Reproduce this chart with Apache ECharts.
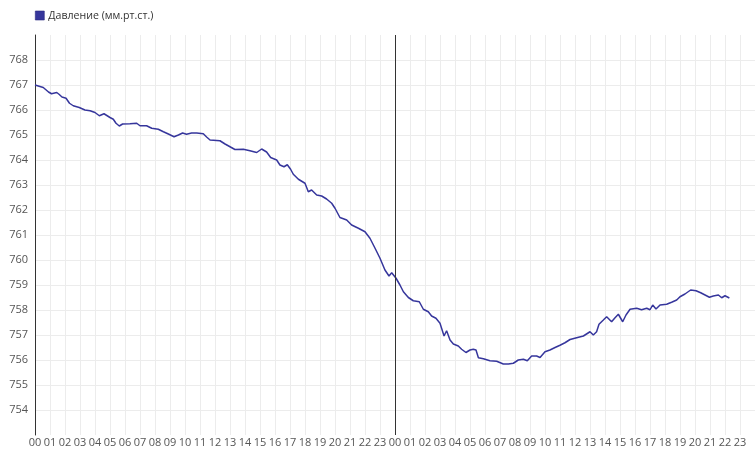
<!DOCTYPE html>
<html>
<head>
<meta charset="utf-8">
<script src="https://cdn.jsdelivr.net/npm/echarts@6/dist/echarts.min.js"></script>
<style>html,body{margin:0;padding:0;background:#fff}#c{width:755px;height:451px}</style>
</head>
<body>
<div id="c"></div>
<script>
const seriesName = 'Давление (мм.рт.ст.)';
const hourLabels = ['00','01','02','03','04','05','06','07','08','09','10','11','12','13','14','15','16','17','18','19','20','21','22','23'];
const dayBreaks = [24];
const hours = [0.0,0.55,0.9,1.1,1.45,1.6,1.8,2.07,2.3,2.55,2.95,3.33,3.67,4.0,4.29,4.6,5.0,5.22,5.4,5.62,5.84,6.33,6.78,7.0,7.44,7.78,8.22,8.56,8.89,9.27,9.56,9.84,10.1,10.44,10.78,11.22,11.44,11.67,12.33,12.67,13.0,13.33,13.89,14.33,14.78,15.11,15.44,15.71,16.11,16.33,16.6,16.82,17.04,17.22,17.56,18.0,18.22,18.44,18.78,19.11,19.44,19.78,20.0,20.33,20.78,21.11,21.56,22.0,22.33,22.67,23.0,23.33,23.6,23.78,24.07,24.33,24.56,24.89,25.22,25.62,25.89,26.22,26.44,26.73,27.0,27.27,27.44,27.67,27.89,28.22,28.44,28.73,29.0,29.22,29.4,29.56,29.89,30.33,30.78,31.22,31.56,31.89,32.22,32.56,32.82,33.11,33.44,33.67,34.0,34.33,34.67,35.0,35.33,35.67,36.11,36.56,37.0,37.22,37.44,37.6,37.89,38.11,38.44,38.67,38.89,39.18,39.4,39.67,40.11,40.44,40.78,41.0,41.18,41.4,41.67,42.11,42.44,42.78,43.0,43.33,43.71,44.07,44.38,44.67,44.96,45.22,45.56,45.78,46.0,46.29];
const pressure = [767.0,766.9,766.72,766.65,766.7,766.63,766.52,766.47,766.27,766.17,766.1,766.0,765.97,765.9,765.77,765.85,765.7,765.63,765.47,765.36,765.44,765.45,765.47,765.37,765.37,765.27,765.23,765.13,765.04,764.93,765.0,765.08,765.03,765.08,765.08,765.05,764.92,764.8,764.77,764.64,764.53,764.42,764.43,764.37,764.3,764.44,764.32,764.1,764.0,763.8,763.73,763.81,763.63,763.43,763.23,763.07,762.73,762.8,762.6,762.56,762.44,762.27,762.07,761.7,761.6,761.4,761.27,761.13,760.87,760.47,760.07,759.6,759.36,759.49,759.27,759.0,758.73,758.5,758.37,758.33,758.03,757.93,757.76,757.67,757.47,756.96,757.17,756.8,756.64,756.56,756.43,756.3,756.4,756.43,756.4,756.09,756.05,755.97,755.95,755.84,755.84,755.87,756.0,756.03,755.97,756.16,756.16,756.1,756.33,756.4,756.5,756.59,756.69,756.82,756.89,756.96,757.13,757.0,757.13,757.43,757.6,757.73,757.53,757.69,757.83,757.53,757.8,758.03,758.07,758.01,758.07,758.01,758.2,758.04,758.2,758.23,758.31,758.4,758.53,758.64,758.8,758.77,758.69,758.6,758.51,758.56,758.6,758.49,758.57,758.48];

const lineColor = '#36369c';
const chart = echarts.init(document.getElementById('c'), null, {renderer: 'canvas'});
chart.setOption({
  animation: false,
  textStyle: {fontFamily: 'Open Sans'},
  legend: {
    left: 30, top: 5, itemWidth: 9, itemHeight: 9, itemGap: 10,
    icon: 'rect',
    itemStyle: {borderColor: '#2a2a80', borderWidth: 0.6},
    textStyle: {fontSize: 10.6, color: '#333', fontFamily: 'Open Sans', padding: [0, 0, 0, -1]},
    data: [seriesName]
  },
  grid: {left: 35, top: 35, right: 0, bottom: 16, containLabel: false},
  xAxis: {
    type: 'value', min: 0, max: 48, interval: 1,
    axisLine: {show: false},
    axisTick: {show: false},
    axisLabel: {
      fontSize: 11, color: '#555', margin: 2, showMaxLabel: false,
      formatter: v => hourLabels[Math.round(v) % 24]
    },
    splitLine: {show: true, lineStyle: {color: '#ececec', width: 1}}
  },
  yAxis: {
    type: 'value', min: 753, max: 769, interval: 1,
    axisLine: {show: true, lineStyle: {color: '#333', width: 1}},
    axisTick: {show: false},
    axisLabel: {fontSize: 11, color: '#555', margin: 7, showMinLabel: false, showMaxLabel: false},
    splitLine: {show: true, showMinLine: false, showMaxLine: false, lineStyle: {color: '#ececec', width: 1}}
  },
  series: [{
    name: seriesName,
    type: 'line',
    data: hours.map((h, i) => [h, pressure[i]]),
    showSymbol: false,
    symbol: 'none',
    itemStyle: {color: lineColor},
    lineStyle: {color: lineColor, width: 1.5},
    markLine: {
      silent: true, symbol: 'none', label: {show: false},
      lineStyle: {color: '#333', width: 1, type: 'solid'},
      data: dayBreaks.map(d => ({xAxis: d}))
    }
  }]
});
</script>
</body>
</html>
